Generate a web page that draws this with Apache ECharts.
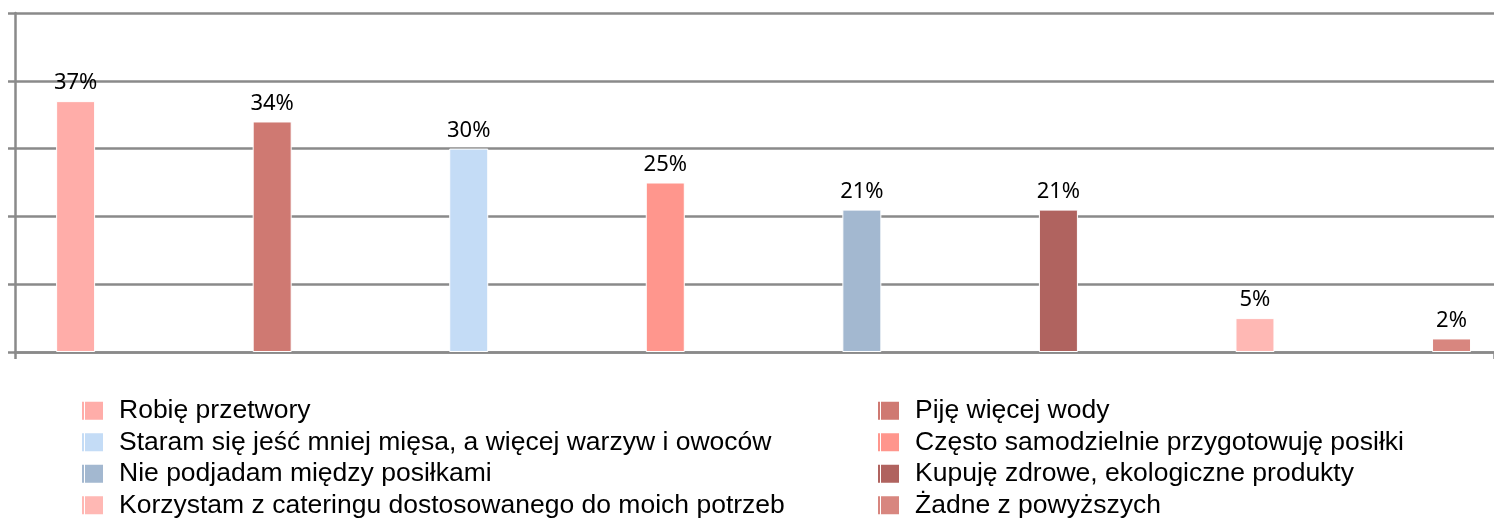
<!DOCTYPE html>
<html>
<head>
<meta charset="utf-8">
<script src="https://cdn.jsdelivr.net/npm/echarts@6/dist/echarts.min.js"></script>
<style>
  html, body { margin: 0; padding: 0; background: #fff; }
  #chart { width: 1494px; height: 519px; }
</style>
</head>
<body>
<div id="chart"></div>
<script>
const answers = [
  "Robię przetwory",
  "Piję więcej wody",
  "Staram się jeść mniej mięsa, a więcej warzyw i owoców",
  "Często samodzielnie przygotowuję posiłki",
  "Nie podjadam między posiłkami",
  "Kupuję zdrowe, ekologiczne produkty",
  "Korzystam z cateringu dostosowanego do moich potrzeb",
  "Żadne z powyższych"
];
const shares = [37, 34, 30, 25, 21, 21, 5, 2];
const colors = ["#ffada9", "#cf7972", "#c4dcf6", "#ff968d", "#a3b8d0", "#b0635f", "#ffb8b4", "#d8867f"];

const gridGrey = "#8a8a8a";
const legendIcon = "path://M0,0H2V18H0Z M3,0H21V18H3Z";

const chart = echarts.init(document.getElementById("chart"));

// empty spacer column, nudges the bar group a little to the right
const spacer = {
  name: "spacer",
  type: "bar",
  data: [null],
  barWidth: 3.6,
  barGap: "404%",
  silent: true,
  itemStyle: { color: "transparent" }
};

const series = [spacer].concat(answers.map((name, i) => ({
  name,
  type: "bar",
  data: [shares[i]],
  barWidth: 39,
  barGap: "404%",
  itemStyle: { color: colors[i], borderColor: "#fff", borderWidth: 1 },
  label: {
    show: true,
    position: "top",
    distance: 7,
    formatter: "{c}%",
    color: "#000",
    fontSize: 22,
    fontFamily: "Noto Sans"
  }
})));

function legendFor(names, left) {
  return {
    orient: "vertical",
    left,
    top: 395,
    height: 140,
    padding: 0,
    data: names,
    icon: legendIcon,
    itemWidth: 21,
    itemHeight: 18,
    itemGap: 0,
    selectedMode: false,
    itemStyle: { borderWidth: 0 },
    textStyle: {
      color: "#000",
      fontSize: 26.5,
      lineHeight: 31.5,
      fontFamily: "Liberation Sans",
      padding: [0, 0, 0, 11]
    }
  };
}

chart.setOption({
  animation: false,
  grid: { left: 15, right: 0, top: 13, bottom: 167, containLabel: false },
  legend: [
    legendFor(answers.filter((_, i) => i % 2 === 0), 82),
    legendFor(answers.filter((_, i) => i % 2 === 1), 878)
  ],
  xAxis: {
    type: "category",
    data: [""],
    axisLine: { lineStyle: { color: gridGrey, width: 2.5 } },
    axisTick: { show: true, length: 7, lineStyle: { color: gridGrey, width: 2.5 } },
    axisLabel: { show: false }
  },
  yAxis: {
    type: "value",
    min: 0,
    max: 50,
    interval: 10,
    axisLine: { show: true, lineStyle: { color: gridGrey, width: 2.5 } },
    axisTick: { show: true, length: 7, lineStyle: { color: gridGrey, width: 2.5 } },
    axisLabel: { show: false },
    splitLine: { lineStyle: { color: gridGrey, width: 2.5 } }
  },
  series
});
</script>
</body>
</html>
